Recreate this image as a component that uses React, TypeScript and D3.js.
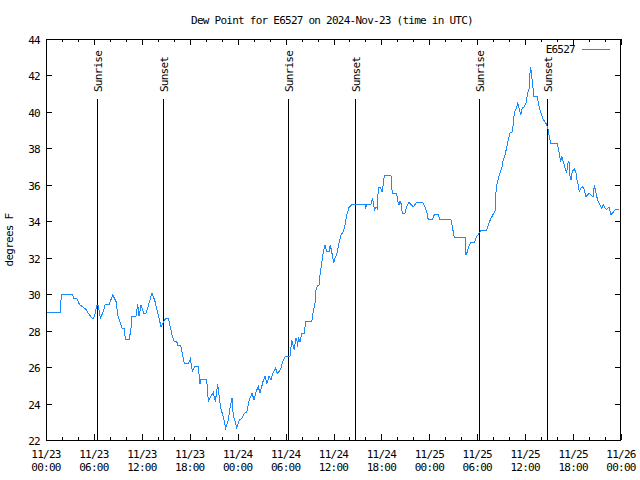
import React from "react";
import * as d3 from "d3";

// Hours since 2024-11-23 00:00 UTC
const hours: number[] = [
  0.0, 1.84, 1.9, 3.34, 3.44, 3.88, 4.17, 4.6, 5.01, 5.3, 5.72, 5.89, 6.1, 6.26, 6.39, 6.55, 6.8, 7.1, 7.43, 7.93,
  8.35, 8.77, 8.98, 9.27, 9.52, 9.8, 9.93, 10.43, 10.64, 10.77, 11.27, 11.48, 11.65, 11.9, 12.23, 12.52, 12.73, 13.27, 13.44, 13.65,
  13.94, 14.15, 14.4, 14.56, 14.69, 14.99, 15.31, 15.61, 15.78, 16.03, 16.37, 16.49, 16.87, 17.07, 17.32, 17.82, 18.07, 18.32, 18.66, 19.07,
  19.28, 19.37, 20.04, 20.2, 20.32, 20.54, 20.95, 21.2, 21.5, 21.66, 21.88, 22.2, 22.5, 22.83, 23.04, 23.29, 23.45, 23.88, 24.2, 24.51,
  24.83, 25.13, 25.46, 25.8, 26.05, 26.3, 26.58, 26.8, 27.17, 27.42, 27.67, 27.92, 28.17, 28.34, 28.76, 28.96, 29.18, 29.43, 29.64, 29.93,
  30.55, 30.77, 30.97, 31.09, 31.27, 31.39, 31.52, 31.59, 31.81, 32.02, 32.34, 32.52, 33.27, 33.47, 33.68, 33.81, 34.02, 34.19, 34.31, 34.52,
  34.72, 34.94, 35.15, 35.44, 35.6, 35.85, 36.03, 36.19, 36.44, 36.69, 36.94, 37.23, 37.44, 37.65, 37.94, 38.36, 39.95, 40.04, 40.16, 40.7,
  40.86, 41.03, 41.11, 41.32, 41.49, 41.61, 41.91, 42.11, 42.24, 42.36, 43.2, 43.36, 43.91, 44.04, 44.2, 44.33, 44.45, 44.62, 44.95, 45.17,
  45.45, 45.7, 45.99, 46.42, 47.17, 47.46, 47.67, 47.87, 48.37, 48.62, 49.12, 49.34, 50.71, 50.88, 51.13, 52.47, 52.59, 52.76, 52.97, 53.22,
  53.63, 53.93, 54.22, 54.47, 55.18, 55.47, 55.72, 56.01, 56.22, 56.31, 56.44, 56.64, 56.85, 57.06, 57.26, 57.48, 57.69, 57.89, 58.1, 58.39,
  58.52, 58.64, 58.85, 59.07, 59.27, 59.44, 59.64, 59.89, 60.11, 60.32, 60.52, 60.64, 60.77, 60.94, 61.11, 61.52, 61.65, 61.86, 62.07, 62.27,
  62.48, 62.7, 62.9, 63.02, 63.2, 64.02, 64.15, 64.27, 64.45, 64.57, 64.78, 64.99, 65.2, 65.33, 65.49, 65.62, 65.74, 65.9, 66.15, 66.37,
  66.53, 66.66, 66.78, 66.99, 67.21, 67.41, 67.62, 67.83, 68.03, 68.33, 68.53, 68.66, 68.78, 68.96, 69.16, 69.37, 69.59, 69.79, 70.0, 70.21,
  70.5, 70.75, 70.96, 71.25, 71.75,
];

const dewPoint: number[] = [
  29.0, 29.0, 30.0, 30.0, 29.74, 29.74, 29.45, 29.3, 29.17, 28.95, 28.71, 28.64, 28.8, 29.17, 29.4, 29.4, 28.68, 28.97, 29.45, 29.45,
  29.96, 29.59, 28.86, 28.49, 28.13, 28.13, 27.53, 27.53, 28.13, 28.8, 28.8, 29.45, 28.8, 29.4, 28.95, 28.95, 29.23, 30.08, 29.87, 29.6,
  29.04, 28.68, 28.22, 28.35, 28.46, 28.68, 28.68, 28.13, 27.77, 27.43, 27.43, 27.16, 27.16, 26.76, 26.17, 26.17, 26.45, 25.79, 26.03, 26.03,
  25.06, 25.33, 25.33, 25.02, 24.1, 24.32, 24.6, 24.1, 25.06, 24.47, 23.74, 23.28, 22.64, 23.1, 23.74, 24.32, 23.37, 22.68, 23.1, 23.19,
  23.47, 23.5, 24.2, 24.56, 24.2, 24.65, 24.93, 24.56, 25.2, 25.5, 25.1, 25.5, 25.3, 25.6, 25.94, 25.66, 25.75, 25.94, 26.3, 26.57,
  26.57, 27.49, 27.12, 26.94, 27.58, 27.58, 27.12, 27.67, 27.4, 27.86, 27.86, 28.49, 28.49, 29.04, 29.5, 30.23, 30.5, 30.5, 31.05, 31.7,
  32.33, 32.7, 32.33, 32.33, 32.7, 32.15, 31.7, 31.97, 32.24, 32.79, 33.25, 33.43, 33.8, 34.35, 34.75, 34.93, 34.93, 34.7, 34.93, 34.93,
  35.26, 35.0, 34.56, 34.8, 34.7, 35.84, 35.84, 35.59, 36.08, 36.5, 36.5, 35.54, 35.54, 35.11, 34.9, 35.11, 34.98, 34.44, 34.44, 34.8,
  35.04, 34.93, 34.8, 35.04, 35.04, 34.8, 34.53, 34.07, 34.07, 34.35, 34.35, 34.07, 34.07, 33.7, 33.1, 33.1, 32.15, 32.33, 32.66, 32.83,
  32.83, 33.15, 33.34, 33.52, 33.52, 33.92, 34.16, 34.4, 34.53, 35.44, 35.99, 36.36, 36.63, 36.9, 37.36, 37.64, 38.06, 38.46, 38.83, 38.92,
  39.41, 39.96, 40.14, 40.47, 40.14, 39.83, 40.2, 40.29, 40.51, 41.02, 41.3, 42.45, 42.2, 41.48, 40.84, 40.84, 40.47, 40.1, 39.83, 39.56,
  39.46, 39.3, 39.0, 38.64, 38.24, 38.24, 38.0, 37.73, 37.27, 37.58, 37.27, 36.9, 36.63, 37.18, 37.27, 36.45, 36.27, 36.72, 36.9, 36.63,
  36.17, 35.99, 35.62, 35.81, 35.9, 35.72, 35.35, 35.44, 35.54, 35.39, 35.35, 35.99, 35.72, 35.35, 35.08, 34.9, 34.71, 34.9, 34.71, 34.66,
  34.77, 34.35, 34.47, 34.62, 34.62,
];

const sunTimes: number[] = [6.33, 14.7, 30.25, 38.72, 54.27, 62.68];
const sunLabels: string[] = ["Sunrise", "Sunset", "Sunrise", "Sunset", "Sunrise", "Sunset"];

const xTickHours: number[] = [0, 6, 12, 18, 24, 30, 36, 42, 48, 54, 60, 66, 72];
const xTickDates: string[] = ["11/23", "11/23", "11/23", "11/23", "11/24", "11/24", "11/24", "11/24", "11/25", "11/25", "11/25", "11/25", "11/26"];
const xTickTimes: string[] = ["00:00", "06:00", "12:00", "18:00", "00:00", "06:00", "12:00", "18:00", "00:00", "06:00", "12:00", "18:00", "00:00"];
const yTicks: number[] = [22, 24, 26, 28, 30, 32, 34, 36, 38, 40, 42, 44];

const title = "Dew Point for E6527 on 2024-Nov-23 (time in UTC)";
const yLabel = "degrees F";
const seriesName = "E6527";

const FONT = "'DejaVu Sans Mono', 'Liberation Mono', monospace";
const FS = 11;
const LS = -0.75;
const LINE_COLOR = "#1a8aff";

export default function App() {
  const left = 46, right = 621, top = 39, bottom = 440;
  const x = d3.scaleLinear().domain([0, 72]).range([left, right]);
  const y = d3.scaleLinear().domain([22, 44]).range([bottom, top]);
  const pts = hours.map((h, i) => [h, dewPoint[i]] as [number, number]);
  const line = d3.line<[number, number]>().x(d => x(d[0])).y(d => y(d[1]));
  const minorHours = d3.range(0, 73, 2).filter(h => h % 6 !== 0);
  const px = (v: number) => Math.round(v) + 0.5;

  return (
    <svg width={640} height={480} style={{ position: "absolute", left: 0, top: 0, background: "#fff" }}
      fontFamily={FONT} fontSize={FS} letterSpacing={LS}>
      <rect x={0} y={0} width={640} height={480} fill="#fff" />
      <text x={332} y={24} textAnchor="middle">{title}</text>
      {/* y ticks */}
      {yTicks.map(t => (
        <g key={"y" + t}>
          <line x1={left} x2={left + 6} y1={px(y(t))} y2={px(y(t))} stroke="#000" shapeRendering="crispEdges" />
          <line x1={right - 6} x2={right} y1={px(y(t))} y2={px(y(t))} stroke="#000" shapeRendering="crispEdges" />
          <text x={40} y={y(t) + 5} textAnchor="end">{t}</text>
        </g>
      ))}
      {/* x major ticks */}
      {xTickHours.map((h, i) => (
        <g key={"x" + h}>
          <line x1={px(x(h))} x2={px(x(h))} y1={bottom} y2={bottom - 6} stroke="#000" shapeRendering="crispEdges" />
          <line x1={px(x(h))} x2={px(x(h))} y1={top} y2={top + 6} stroke="#000" shapeRendering="crispEdges" />
          <text x={x(h)} y={458} textAnchor="middle">{xTickDates[i]}</text>
          <text x={x(h)} y={471} textAnchor="middle">{xTickTimes[i]}</text>
        </g>
      ))}
      {minorHours.map(h => (
        <g key={"m" + h}>
          <line x1={px(x(h))} x2={px(x(h))} y1={bottom} y2={bottom - 3} stroke="#000" shapeRendering="crispEdges" />
          <line x1={px(x(h))} x2={px(x(h))} y1={top} y2={top + 3} stroke="#000" shapeRendering="crispEdges" />
        </g>
      ))}
      {/* sunrise / sunset */}
      {sunTimes.map((s, i) => (
        <g key={"s" + i}>
          <line x1={px(x(s))} x2={px(x(s))} y1={99} y2={bottom} stroke="#000" shapeRendering="crispEdges" />
          <text transform={`translate(${x(s) + 5},92) rotate(-90)`} textAnchor="start">{sunLabels[i]}</text>
        </g>
      ))}
      {/* data */}
      <path d={line(pts) || ""} fill="none" stroke={LINE_COLOR} strokeWidth={1} shapeRendering="crispEdges" />
      {/* frame */}
      <rect x={left + 0.5} y={top + 0.5} width={right - left - 1} height={bottom - top} fill="none" stroke="#000" shapeRendering="crispEdges" />
      {/* legend */}
      <text x={575} y={53} textAnchor="end">{seriesName}</text>
      <line x1={582} x2={610} y1={49.5} y2={49.5} stroke={LINE_COLOR} shapeRendering="crispEdges" />
      {/* y label */}
      <text transform={`translate(13,240) rotate(-90)`} textAnchor="middle">{yLabel}</text>
    </svg>
  );
}
